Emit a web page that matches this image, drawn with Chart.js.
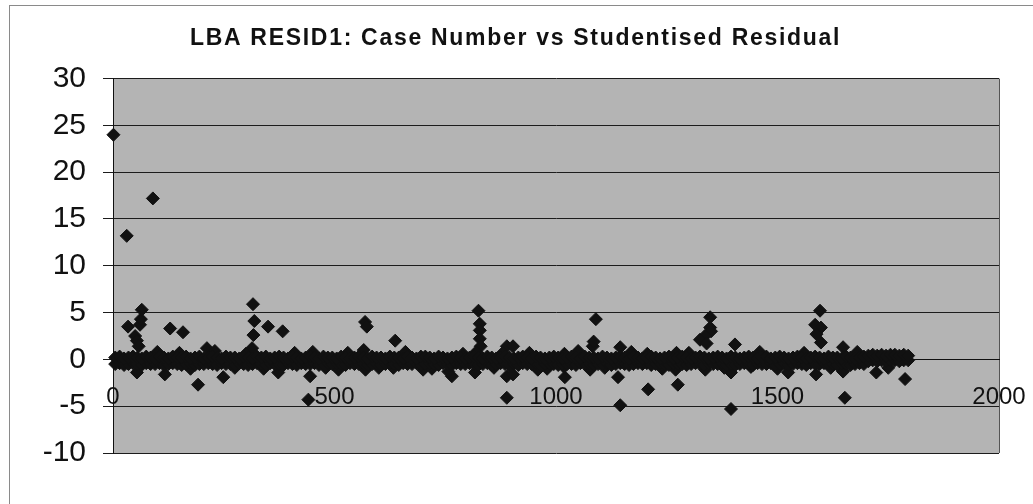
<!DOCTYPE html>
<html>
<head>
<meta charset="utf-8">
<script src="https://cdn.jsdelivr.net/npm/chart.js@4.4.1/dist/chart.umd.min.js"></script>
<style>
  html, body { margin: 0; padding: 0; background: #ffffff; }
  #wrap { position: relative; width: 1033px; height: 504px; }
  canvas { display: block; }
</style>
</head>
<body>
<div id="wrap"><canvas id="c" width="1033" height="504"></canvas></div>
<script>
// ---- Data ----
const chartTitle = 'LBA RESID1: Case Number vs Studentised Residual';
const xTickValues = [0, 500, 1000, 1500, 2000];
const yTickValues = [-10, -5, 0, 5, 10, 15, 20, 25, 30];

// The dense band of residuals around zero (cases 5, 15, 25, ... 1795):
// upper and lower edges of the band
const bandFirstCase = 5;
const bandCaseStep = 10;
const bandUpperValues = [
  0.2,0.3,0.1,0.2,0.3,0.2,0.1,0.3,0.2,0.1,
  0.3,0.2,0.1,0.3,0.2,0.2,0.3,0.1,0.2,0.3,
  0.1,0.2,0.3,0.2,0.1,0.3,0.2,0.2,0.1,0.3,
  0.2,0.1,0.3,0.2,0.3,0.1,0.2,0.3,0.2,0.1,
  0.3,0.2,0.1,0.2,0.3,0.2,0.1,0.3,0.2,0.2,
  0.1,0.3,0.2,0.1,0.2,0.3,0.2,0.1,0.3,0.2,
  0.2,0.1,0.3,0.2,0.2,0.1,0.3,0.2,0.1,0.3,
  0.3,0.2,0.1,0.3,0.2,0.1,0.2,0.3,0.2,0.1,
  0.2,0.3,0.2,0.1,0.3,0.2,0.1,0.2,0.3,0.2,
  0.1,0.2,0.3,0.2,0.1,0.3,0.2,0.1,0.2,0.3,
  0.2,0.1,0.2,0.3,0.2,0.1,0.3,0.2,0.2,0.1,
  0.3,0.2,0.1,0.2,0.3,0.2,0.1,0.3,0.2,0.1,
  0.2,0.3,0.2,0.1,0.2,0.3,0.1,0.2,0.3,0.2,
  0.1,0.2,0.3,0.2,0.1,0.2,0.3,0.2,0.1,0.3,
  0.2,0.1,0.2,0.3,0.2,0.1,0.2,0.3,0.1,0.2,
  0.3,0.2,0.1,0.2,0.3,0.2,0.1,0.2,0.3,0.2,
  0.1,0.3,0.2,0.2,0.1,0.3,0.2,0.1,0.2,0.3,
  0.4,0.5,0.4,0.5,0.4,0.5,0.5,0.4,0.5,0.4
];
const bandLowerValues = [
  -0.5,-0.4,-0.6,-0.5,-0.4,-0.5,-0.6,-0.4,-0.5,-0.5,
  -0.4,-0.6,-0.5,-0.4,-0.5,-0.6,-0.5,-0.4,-0.6,-0.5,
  -0.5,-0.4,-0.5,-0.6,-0.4,-0.5,-0.5,-0.6,-0.4,-0.5,
  -0.6,-0.5,-0.4,-0.5,-0.6,-0.4,-0.5,-0.5,-0.6,-0.4,
  -0.5,-0.6,-0.4,-0.5,-0.5,-0.4,-0.6,-0.5,-0.4,-0.5,
  -0.4,-0.5,-0.6,-0.4,-0.5,-0.5,-0.4,-0.6,-0.5,-0.4,
  -0.6,-0.5,-0.4,-0.5,-0.6,-0.4,-0.5,-0.5,-0.4,-0.6,
  -0.5,-0.4,-0.5,-0.6,-0.4,-0.5,-0.6,-0.4,-0.5,-0.5,
  -0.4,-0.5,-0.6,-0.5,-0.4,-0.6,-0.5,-0.4,-0.5,-0.6,
  -0.5,-0.6,-0.4,-0.5,-0.5,-0.4,-0.6,-0.5,-0.4,-0.5,
  -0.6,-0.4,-0.5,-0.5,-0.6,-0.4,-0.5,-0.4,-0.6,-0.5,
  -0.5,-0.4,-0.6,-0.5,-0.4,-0.5,-0.6,-0.5,-0.4,-0.5,
  -0.4,-0.6,-0.5,-0.4,-0.5,-0.6,-0.4,-0.5,-0.5,-0.6,
  -0.5,-0.4,-0.5,-0.6,-0.4,-0.5,-0.5,-0.4,-0.6,-0.5,
  -0.6,-0.5,-0.4,-0.5,-0.6,-0.4,-0.5,-0.5,-0.4,-0.6,
  -0.5,-0.4,-0.6,-0.5,-0.4,-0.5,-0.6,-0.4,-0.5,-0.5,
  -0.4,-0.5,-0.5,-0.6,-0.4,-0.5,-0.6,-0.5,-0.4,-0.5,
  -0.2,-0.1,-0.2,-0.1,-0.2,-0.1,-0.1,-0.2,-0.1,-0.1
];

// Individual points standing out of the band
const outlierCases = [
  1, 90, 31,
  34, 50, 54, 61, 63, 65, 58, 54,
  129, 158, 117, 192, 249, 212,
  316, 319, 317, 314, 350, 383, 373, 445, 441, 509, 451,
  569, 573, 566, 570, 637, 633, 700, 765, 757,
  825, 828, 828, 828, 830, 817, 820,
  889, 889, 889, 880,
  903, 903, 959, 1020, 1018, 1019,
  1090, 1083, 1085, 1077,
  1145, 1140, 1145, 1208, 1206, 1275, 1272, 1270,
  1348, 1348, 1350, 1336, 1325, 1340, 1337,
  1404, 1395, 1395, 1440,
  1524, 1596, 1585, 1598, 1588, 1598, 1587,
  1648, 1648, 1652, 1723, 1788,
  100, 150, 175, 230, 275, 300, 340, 410, 480, 530, 600, 660, 720, 790,
  860, 940, 980, 1050, 1110, 1170, 1240, 1300, 1380, 1460, 1500, 1560,
  1620, 1680, 1750
];
const outlierResiduals = [
  24.0, 17.2, 13.2,
  3.5, 2.5, 2.0, 3.7, 4.3, 5.3, 1.4, -1.4,
  3.3, 2.9, -1.6, -2.7, -1.9, 1.2,
  5.9, 4.1, 2.6, 1.2, 3.5, 3.0, -1.4, -1.8, -4.3, -1.1, 0.8,
  4.0, 3.5, 1.0, -1.1, 2.0, -0.9, -1.1, -1.8, -1.3,
  5.2, 3.8, 3.1, 2.2, 1.4, -1.4, 0.8,
  1.4, -1.8, -4.1, 0.7,
  1.4, -1.6, -1.1, -1.9, -0.8, 0.6,
  4.3, 1.4, 1.9, -1.1,
  1.3, -1.9, -4.9, -3.2, 0.6, -2.7, 0.7, -1.1,
  4.5, 3.4, 3.0, 2.5, 2.1, 1.7, -1.1,
  1.6, -1.4, -5.3, -0.8,
  -1.4, 5.2, 3.7, 3.4, 2.7, 1.8, -1.6,
  1.3, -1.3, -4.1, -1.4, -2.1,
  0.8, 0.7, -1.0, 0.9, -0.9, 0.6, -1.0, 0.7, -0.9, 0.7, -0.9, 0.8, -1.0, 0.6,
  -0.9, 0.7, -1.0, 0.9, -0.9, 0.8, -1.0, 0.7, -0.9, 0.8, -1.0, 0.7,
  -0.9, 0.8, -0.9
];

// ---- Build chart data ----
const bandCase = i => bandFirstCase + i * bandCaseStep;
const bandUpperPoints = bandUpperValues.map((v, i) => ({ x: bandCase(i), y: v }));
const bandLowerPoints = bandLowerValues.map((v, i) => ({ x: bandCase(i), y: v }));
const outlierPoints = outlierCases.map((c, i) => ({ x: c, y: outlierResiduals[i] }));

const FONT = "'Liberation Sans', Arial, Helvetica, sans-serif";

const plotBg = {
  id: 'plotBg',
  beforeDraw(chart) {
    const { ctx, chartArea: a } = chart;
    ctx.save();
    ctx.strokeStyle = '#8a8a8a';
    ctx.lineWidth = 1;
    ctx.strokeRect(9.5, 5.5, 1100, 600);
    ctx.fillStyle = '#b4b4b4';
    ctx.fillRect(a.left, a.top, a.right - a.left, a.bottom - a.top);
    ctx.strokeStyle = '#555555';
    ctx.beginPath();
    ctx.moveTo(Math.round(a.right) + 0.5, a.top);
    ctx.lineTo(Math.round(a.right) + 0.5, a.bottom);
    ctx.stroke();
    ctx.restore();
  },
  afterLayout(chart) {
    const tb = chart.titleBlock;
    if (tb && !tb._spaced) {
      const orig = tb.draw;
      tb.draw = function (area) {
        const c = this.ctx || chart.ctx;
        c.save();
        c.letterSpacing = '1.7px';
        orig.call(this, area);
        c.restore();
      };
      tb._spaced = true;
    }
  }
};

const markerStyle = {
  pointStyle: 'rectRot',
  pointRadius: 6.5,
  pointHoverRadius: 6.5,
  backgroundColor: '#111111',
  borderColor: '#111111',
  borderWidth: 1,
  showLine: false,
  clip: false
};

new Chart(document.getElementById('c'), {
  type: 'scatter',
  data: {
    datasets: [
      Object.assign({ label: 'Residual (band, upper)', data: bandUpperPoints }, markerStyle),
      Object.assign({ label: 'Residual (band, lower)', data: bandLowerPoints }, markerStyle),
      Object.assign({ label: 'Residual (outliers)', data: outlierPoints }, markerStyle)
    ]
  },
  options: {
    responsive: false,
    animation: false,
    events: [],
    layout: { padding: { left: 15, right: 17, top: 0, bottom: 51 } },
    plugins: {
      legend: { display: false },
      tooltip: { enabled: false },
      title: {
        display: true,
        text: chartTitle,
        color: '#111111',
        font: { family: FONT, size: 23, weight: 'bold' },
        padding: { top: 25, bottom: 26 }
      }
    },
    scales: {
      x: {
        type: 'linear',
        min: xTickValues[0],
        max: xTickValues[xTickValues.length - 1],
        position: { y: 0 },
        afterBuildTicks: s => { s.ticks = xTickValues.map(v => ({ value: v })); },
        afterFit: s => { s.paddingLeft = 0; s.paddingRight = 34; },
        ticks: {
          color: '#111111',
          font: { family: FONT, size: 24 },
          padding: 24,
          maxRotation: 0,
          autoSkip: false,
          callback: v => String(v)
        },
        grid: { display: false, drawTicks: false },
        border: { display: true, color: '#111111' }
      },
      y: {
        type: 'linear',
        min: yTickValues[0],
        max: yTickValues[yTickValues.length - 1],
        afterBuildTicks: s => { s.ticks = yTickValues.map(v => ({ value: v })); },
        afterFit: s => { s.width = 98; },
        ticks: {
          color: '#111111',
          font: { family: FONT, size: 30 },
          padding: 17,
          callback: v => String(v)
        },
        grid: { color: '#1c1c1c', lineWidth: 1, tickLength: 10, drawTicks: true },
        border: { display: true, color: '#111111' }
      }
    }
  },
  plugins: [plotBg]
});
</script>
</body>
</html>
